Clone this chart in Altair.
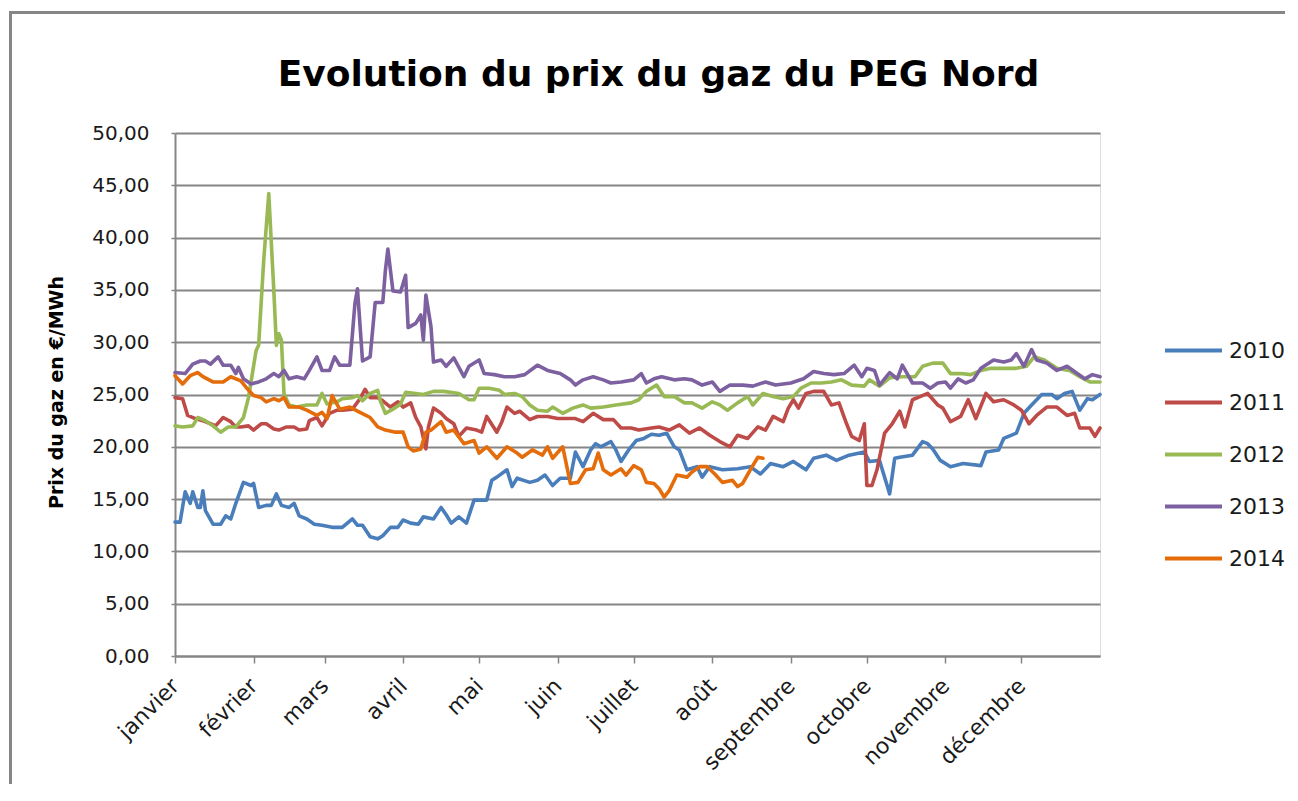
import altair as alt
import pandas as pd

# ---------------- data ----------------
years = ["2010", "2011", "2012", "2013", "2014"]
colors = ["#4A7EBB", "#BE4B48", "#98B954", "#7D60A0", "#E46C0A"]
month_labels = ["janvier", "février", "mars", "avril", "mai", "juin", "juillet",
                "août", "septembre", "octobre", "novembre", "décembre"]
month_starts = [0, 31, 59, 90, 120, 151, 181, 212, 243, 273, 304, 334]
y_ticks = [0, 5, 10, 15, 20, 25, 30, 35, 40, 45, 50]

days_2010 = [0, 2, 4, 6, 7, 9, 10, 11, 12, 15, 18, 20, 22, 24, 27, 30, 31, 33, 36, 38, 40, 42, 45, 47, 49, 52,
             55, 58, 62, 66, 70, 72, 74, 77, 80, 82, 85, 88, 90, 93, 96, 98, 102, 105, 107, 109, 112, 115, 118,
             123, 125, 127, 131, 133, 135, 140, 143, 146, 149, 152, 156, 158, 161, 164, 166, 168, 172, 174, 176,
             179, 182, 185, 188, 191, 194, 197, 199, 202, 206, 208, 211, 216, 222, 227, 231, 235, 240, 244, 249,
             252, 257, 261, 266, 272, 274, 278, 282, 284, 286, 291, 295, 297, 299, 302, 306, 311, 318, 320, 325,
             327, 332, 335, 338, 342, 346, 348, 351, 354, 357, 360, 362, 365]
prix_2010 = [12.8, 12.8, 15.7, 14.6, 15.7, 14.2, 14.2, 15.8, 13.9, 12.6, 12.6, 13.4, 13.1, 14.6, 16.6, 16.3, 16.5,
             14.2, 14.4, 14.4, 15.5, 14.4, 14.2, 14.6, 13.4, 13.1, 12.6, 12.5, 12.3, 12.3, 13.1, 12.5, 12.5, 11.4,
             11.2, 11.5, 12.3, 12.3, 13.0, 12.7, 12.6, 13.3, 13.1, 14.2, 13.5, 12.7, 13.3, 12.7, 14.9, 14.9, 16.8,
             17.1, 17.8, 16.2, 17.0, 16.6, 16.8, 17.3, 16.3, 17.0, 17.0, 19.5, 18.1, 19.7, 20.3, 20.0, 20.5, 19.7,
             18.6, 19.7, 20.6, 20.8, 21.2, 21.1, 21.3, 20.0, 19.7, 17.8, 18.1, 17.1, 18.1, 17.8, 17.9, 18.1, 17.4,
             18.4, 18.1, 18.6, 17.8, 18.9, 19.2, 18.7, 19.2, 19.5, 18.6, 18.7, 15.5, 18.9, 19.0, 19.2, 20.5, 20.3,
             19.8, 18.7, 18.1, 18.4, 18.2, 19.5, 19.7, 20.8, 21.3, 23.2, 24.0, 25.0, 25.0, 24.6, 25.1, 25.3, 23.5,
             24.6, 24.5, 25.0]

days_2011 = [0, 3, 5, 8, 11, 14, 16, 19, 22, 24, 26, 29, 31, 34, 36, 39, 41, 44, 47, 49, 52, 53, 56, 58, 61, 64,
             66, 70, 73, 75, 77, 80, 82, 85, 88, 90, 93, 95, 97, 99, 100, 102, 105, 107, 110, 112, 115, 119, 121,
             123, 127, 129, 131, 134, 136, 140, 143, 147, 151, 155, 158, 161, 165, 169, 173, 176, 180, 183, 188,
             191, 195, 199, 203, 207, 211, 215, 219, 222, 226, 230, 233, 236, 240, 242, 244, 246, 249, 252, 256,
             259, 262, 265, 267, 270, 272, 273, 275, 277, 280, 283, 286, 288, 291, 294, 297, 301, 303, 306, 310,
             313, 316, 320, 323, 327, 331, 334, 337, 340, 344, 348, 352, 355, 357, 361, 363, 365]
prix_2011 = [24.7, 24.6, 23.0, 22.7, 22.5, 22.2, 22.0, 22.8, 22.4, 21.9, 21.9, 22.0, 21.6, 22.2, 22.2, 21.7, 21.6,
             21.9, 21.9, 21.6, 21.7, 22.5, 22.8, 22.0, 23.2, 23.5, 23.5, 23.6, 24.6, 25.5, 24.7, 24.7, 24.4, 23.8,
             24.3, 23.8, 24.2, 22.8, 21.9, 19.8, 21.9, 23.7, 23.2, 22.7, 22.2, 21.0, 21.8, 21.6, 21.4, 22.9, 21.4,
             22.4, 23.8, 23.2, 23.4, 22.6, 22.9, 22.9, 22.7, 22.7, 22.7, 22.4, 23.2, 22.6, 22.6, 21.8, 21.8, 21.6,
             21.8, 21.9, 21.6, 22.1, 21.3, 21.8, 21.1, 20.5, 20.0, 21.1, 20.8, 21.9, 21.6, 22.9, 22.4, 23.7, 24.5,
             23.7, 25.1, 25.3, 25.3, 24.0, 24.2, 22.2, 21.0, 20.6, 22.2, 16.3, 16.3, 17.8, 21.3, 22.2, 23.4, 21.9,
             24.5, 24.8, 25.1, 24.0, 23.7, 22.4, 22.9, 24.5, 22.7, 25.1, 24.3, 24.5, 24.0, 23.5, 22.2, 23.0, 23.8,
             23.8, 23.0, 23.2, 21.8, 21.8, 21.0, 21.8]

days_2012 = [0, 3, 7, 9, 12, 15, 18, 21, 24, 27, 29, 32, 33, 35, 37, 39, 40, 41, 42, 43, 45, 48, 52, 56, 58, 60,
             64, 66, 70, 72, 74, 77, 80, 81, 83, 86, 89, 91, 95, 98, 102, 106, 112, 116, 118, 120, 124, 128, 130,
             134, 137, 140, 143, 147, 149, 153, 157, 161, 164, 169, 174, 180, 183, 186, 190, 193, 197, 201, 204,
             208, 212, 215, 218, 222, 226, 228, 232, 236, 240, 244, 247, 251, 255, 259, 263, 267, 272, 274, 278,
             282, 287, 292, 295, 299, 303, 306, 310, 314, 318, 322, 327, 332, 336, 339, 343, 348, 353, 357, 361,
             365]
prix_2012 = [22.0, 21.9, 22.0, 22.8, 22.5, 22.0, 21.4, 21.9, 21.9, 22.8, 24.7, 29.2, 29.7, 37.8, 44.2, 34.9, 29.7,
             30.8, 30.2, 25.1, 24.0, 23.8, 24.0, 24.0, 25.1, 24.1, 24.3, 24.6, 24.7, 24.9, 24.4, 25.1, 25.4, 24.4,
             23.2, 23.6, 24.1, 25.2, 25.1, 25.0, 25.3, 25.3, 25.1, 24.5, 24.5, 25.6, 25.6, 25.4, 25.0, 25.1, 24.8,
             24.0, 23.5, 23.4, 23.8, 23.2, 23.7, 24.0, 23.7, 23.8, 24.0, 24.2, 24.5, 25.3, 25.9, 24.8, 24.8, 24.2,
             24.2, 23.7, 24.3, 24.0, 23.5, 24.2, 24.8, 24.0, 25.1, 24.8, 24.6, 24.8, 25.6, 26.1, 26.1, 26.2, 26.4,
             25.9, 25.8, 26.4, 25.8, 26.6, 26.7, 26.7, 27.7, 28.0, 28.0, 27.0, 27.0, 26.9, 27.3, 27.5, 27.5, 27.5,
             27.7, 28.6, 28.3, 27.5, 27.3, 26.7, 26.2, 26.2]

days_2013 = [0, 4, 7, 10, 12, 14, 17, 19, 22, 24, 25, 27, 30, 33, 36, 39, 41, 43, 45, 48, 51, 53, 56, 58, 61, 63,
             65, 69, 71, 72, 74, 77, 79, 82, 83, 84, 86, 89, 91, 92, 95, 97, 98, 99, 101, 102, 105, 107, 110, 114,
             116, 120, 122, 126, 130, 134, 138, 143, 147, 152, 156, 158, 161, 165, 169, 172, 176, 181, 184, 186,
             189, 192, 197, 201, 204, 208, 212, 215, 219, 224, 228, 233, 237, 243, 248, 252, 256, 260, 264, 268,
             271, 273, 276, 278, 282, 285, 287, 291, 295, 298, 301, 304, 306, 309, 312, 315, 318, 323, 327, 330,
             332, 335, 338, 340, 344, 348, 352, 356, 359, 362, 365]
prix_2013 = [27.1, 27.0, 27.9, 28.2, 28.2, 27.9, 28.6, 27.8, 27.8, 27.0, 27.6, 26.5, 26.0, 26.2, 26.5, 27.0, 26.7,
             27.3, 26.5, 26.7, 26.5, 27.3, 28.6, 27.3, 27.3, 28.6, 27.8, 27.8, 33.7, 35.1, 28.2, 28.6, 33.8, 33.8,
             36.8, 38.9, 34.9, 34.8, 36.4, 31.4, 31.8, 32.6, 30.2, 34.5, 31.5, 28.1, 28.3, 27.7, 28.5, 26.7, 27.7,
             28.3, 27.0, 26.9, 26.7, 26.7, 26.9, 27.8, 27.3, 27.0, 26.4, 25.9, 26.4, 26.7, 26.4, 26.1, 26.2, 26.4,
             27.0, 26.1, 26.5, 26.7, 26.4, 26.5, 26.4, 25.9, 26.2, 25.3, 25.9, 25.9, 25.8, 26.2, 25.9, 26.1, 26.5,
             27.2, 27.0, 26.9, 27.0, 27.8, 26.7, 27.5, 27.3, 25.9, 27.1, 26.5, 27.8, 26.1, 26.1, 25.6, 26.1, 26.2,
             25.6, 26.5, 26.1, 26.4, 27.5, 28.3, 28.1, 28.3, 28.9, 27.7, 29.3, 28.3, 28.0, 27.3, 27.7, 27.0, 26.5,
             26.9, 26.7]

days_2014 = [0, 3, 6, 9, 11, 15, 19, 22, 26, 28, 31, 34, 36, 39, 41, 43, 45, 49, 52, 56, 58, 60, 62, 65, 69, 73,
             77, 80, 83, 87, 90, 92, 94, 97, 99, 101, 105, 107, 110, 114, 118, 120, 123, 127, 131, 135, 137, 141,
             145, 147, 149, 153, 156, 159, 162, 165, 167, 169, 172, 176, 178, 181, 184, 186, 189, 191, 193, 195,
             198, 202, 204, 207, 210, 213, 216, 220, 222, 224, 227, 230, 232]
prix_2014 = [26.8, 26.0, 26.8, 27.1, 26.7, 26.2, 26.2, 26.7, 26.3, 25.7, 24.9, 24.7, 24.3, 24.6, 24.4, 24.7, 23.8,
             23.8, 23.5, 23.0, 23.3, 22.7, 24.9, 23.6, 23.8, 23.3, 22.8, 21.9, 21.6, 21.4, 21.4, 20.0, 19.6, 19.8,
             21.4, 21.6, 22.4, 21.4, 21.6, 20.3, 20.6, 19.4, 20.0, 18.9, 20.0, 19.4, 19.0, 19.7, 19.2, 20.0, 18.9,
             20.0, 16.5, 16.6, 17.8, 17.9, 19.4, 17.8, 17.3, 17.9, 17.3, 18.2, 17.8, 16.6, 16.5, 16.0, 15.2, 15.8,
             17.3, 17.1, 17.6, 18.1, 18.1, 17.4, 16.6, 16.8, 16.2, 16.5, 17.8, 19.0, 18.9]

series = [(years[0], days_2010, prix_2010), (years[1], days_2011, prix_2011),
          (years[2], days_2012, prix_2012), (years[3], days_2013, prix_2013),
          (years[4], days_2014, prix_2014)]
rows = []
for yr, ds, vs in series:
    for d, v in zip(ds, vs):
        rows.append({"annee": yr, "jour": d, "prix": v})
df = pd.DataFrame(rows)

# ---------------- styling ----------------
FONT = "DejaVu Sans"
GRID = "#868686"
TXT = "#1a1a1a"

month_expr = ("[" + ",".join("'" + m + "'" for m in month_labels) + "][indexof(["
              + ",".join(str(s) for s in month_starts) + "], datum.value)]")

lines = alt.Chart(df).mark_line(strokeWidth=3.6, strokeJoin="round", strokeCap="round").encode(
    x=alt.X("jour:Q",
            scale=alt.Scale(domain=[0, 365], nice=False, zero=False),
            axis=alt.Axis(values=month_starts, labelExpr=month_expr, labelAngle=-45,
                          labelAlign="right", labelBaseline="middle", grid=False,
                          tickSize=7, tickColor=GRID, tickWidth=1.5, domainColor=GRID, domainWidth=2,
                          labelPadding=19, labelFont=FONT, labelFontSize=22, labelColor=TXT,
                          labelOverlap=False, title=None)),
    y=alt.Y("prix:Q",
            scale=alt.Scale(domain=[0, 50], nice=False),
            axis=alt.Axis(values=y_ticks, labelExpr="replace(format(datum.value, '.2f'), '.', ',')",
                          grid=True, gridColor=GRID, gridWidth=2, domainColor=GRID, domainWidth=2,
                          tickColor=GRID, tickSize=4, tickWidth=1.5, labelPadding=22,
                          labelFont=FONT, labelFontSize=20, labelColor=TXT,
                          title="Prix du gaz en €/MWh", titleFont=FONT, titleFontSize=19,
                          titleFontWeight="bold", titleColor="#000000", titleAngle=-90,
                          titleX=-119, titleY=259, titleAlign="center", titleBaseline="middle")),
    color=alt.Color("annee:N",
                    scale=alt.Scale(domain=years, range=colors),
                    legend=alt.Legend(orient="none", legendX=988, legendY=187, title=None,
                                      symbolType="stroke", symbolSize=3249, symbolStrokeWidth=4,
                                      labelFont=FONT, labelFontSize=22, labelColor=TXT,
                                      rowPadding=10, labelOffset=5)),
)

# outer chart frame: thin filled bands along the top and left edges
one_top = pd.DataFrame({"band": ["top"]})
one_left = pd.DataFrame({"band": ["left"]})
frame_top = alt.Chart(one_top).mark_rect(color=GRID, strokeWidth=0).encode(
    x=alt.value(-166), x2=alt.value(1115), y=alt.value(-122), y2=alt.value(-119))
frame_left = alt.Chart(one_left).mark_rect(color=GRID, strokeWidth=0).encode(
    x=alt.value(-166), x2=alt.value(-163), y=alt.value(-122), y2=alt.value(660))

chart = alt.layer(lines, frame_top, frame_left).properties(
    width=925, height=523,
    title=alt.TitleParams("Evolution du prix du gaz du PEG Nord", font=FONT, fontSize=36,
                          fontWeight="bold", color="#000000", anchor="middle", dx=21,
                          offset=0, dy=83),
    autosize=alt.AutoSizeParams(type="none"),
    padding={"left": 167, "top": 125, "right": 185, "bottom": 128},
).configure_view(stroke=None).configure(background="white")

chart.save("out.html", embed_options={"renderer": "svg", "actions": False})
